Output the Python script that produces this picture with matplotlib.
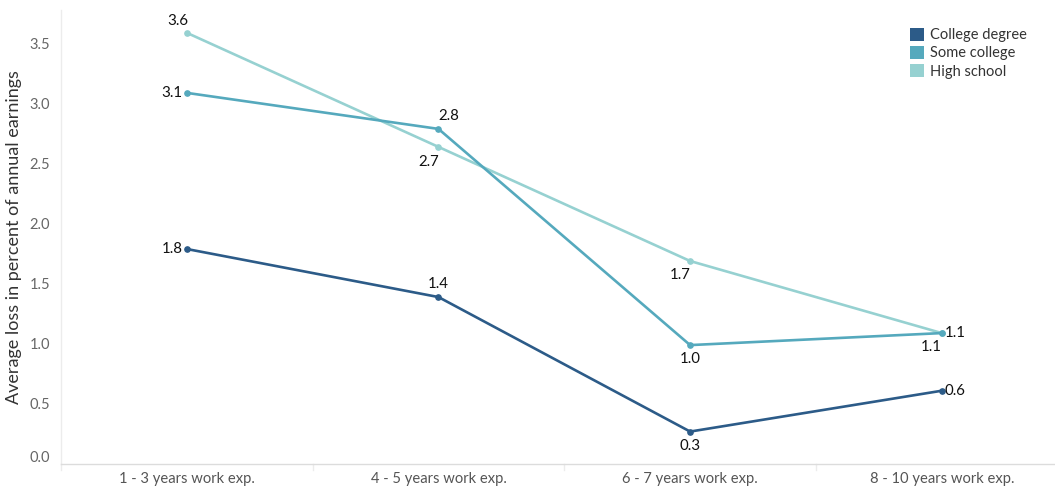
import matplotlib
matplotlib.use("Agg")
import matplotlib.pyplot as plt
import matplotlib.transforms as mtransforms
from matplotlib.patches import Patch

plt.rcParams["font.family"] = ["Lato", "DejaVu Sans"]

categories = ["1 - 3 years work exp.", "4 - 5 years work exp.",
              "6 - 7 years work exp.", "8 - 10 years work exp."]
series_names = ["College degree", "Some college", "High school"]
college = [1.79, 1.39, 0.27, 0.61]
some_college = [3.09, 2.79, 0.99, 1.09]
high_school = [3.59, 2.64, 1.69, 1.09]
college_lbl = ["1.8", "1.4", "0.3", "0.6"]
some_lbl = ["3.1", "2.8", "1.0", "1.1"]
high_lbl = ["3.6", "2.7", "1.7", "1.1"]

colors = ["#2c5b88", "#55a9bd", "#96d1d1"]

# label offsets in pixels (dx, dy, ha) per point
college_off = [(-4, 0, "right"), (0, 13, "center"), (0, -14, "center"), (3, 0, "left")]
some_off = [(-4, 0, "right"), (10, 13, "center"), (0, -14, "center"), (3, 0, "left")]
high_off = [(-9, 12, "center"), (-10, -15, "center"), (-10, -14, "center"), (-10, -14, "center")]

fig = plt.figure(figsize=(10.55, 4.88), dpi=100)
ax = fig.add_axes([61 / 1055, 1 - 464 / 488, 1 - 61 / 1055, 454 / 488])

x = list(range(len(categories)))
for vals, lbls, offs, c in [(high_school, high_lbl, high_off, colors[2]),
                            (some_college, some_lbl, some_off, colors[1]),
                            (college, college_lbl, college_off, colors[0])]:
    ax.plot(x, vals, color=c, lw=1.9, marker="o", ms=3.8, zorder=3)
    for xi, v, t, (dx, dy, ha) in zip(x, vals, lbls, offs):
        ax.annotate(t, (xi, v), xytext=(dx, dy), textcoords="offset pixels",
                    ha=ha, va="center", fontsize=10.8, color="#111111", zorder=5)

ax.set_xlim(-0.5, 3.45)
ax.set_ylim(0, 3.78)
ax.set_yticks([0, 0.5, 1, 1.5, 2, 2.5, 3, 3.5])
ax.set_yticklabels([f"{v:.1f}" for v in [0, 0.5, 1, 1.5, 2, 2.5, 3, 3.5]])
ax.set_xticks(x)
ax.set_xticklabels(categories)
ax.tick_params(axis="y", length=0, pad=8, labelsize=10.5, labelcolor="#666666")
ax.tick_params(axis="x", length=0, pad=6, labelsize=10.6, labelcolor="#555555")
# nudge 0.0 label up like the reference
lab0 = ax.get_yticklabels()[0]
lab0.set_transform(lab0.get_transform() + mtransforms.ScaledTranslation(0, 7 / 100, fig.dpi_scale_trans))

for s in ["top", "right"]:
    ax.spines[s].set_visible(False)
ax.spines["left"].set_color("#ececec")
ax.spines["left"].set_linewidth(1)
ax.spines["bottom"].set_color("#dcdcdc")
ax.spines["bottom"].set_linestyle((0, (1, 1)))
ax.spines["bottom"].set_linewidth(1)

# band separators below the axis line
for b in [-0.5, 0.5, 1.5, 2.5]:
    ax.plot([b, b], [0, -0.05], color="#ececec", lw=1, clip_on=False)

ax.set_ylabel("Average loss in percent of annual earnings", fontsize=13, color="#333333", labelpad=5)

handles = [Patch(facecolor=c, edgecolor="none") for c in colors]
ax.legend(handles, series_names, loc="upper right", bbox_to_anchor=(0.985, 0.99),
          frameon=False, fontsize=10.5, handlelength=1.0, handleheight=1.0,
          handletextpad=0.4, labelspacing=0.25, labelcolor="#333333")

fig.savefig("out.png", dpi=100)
